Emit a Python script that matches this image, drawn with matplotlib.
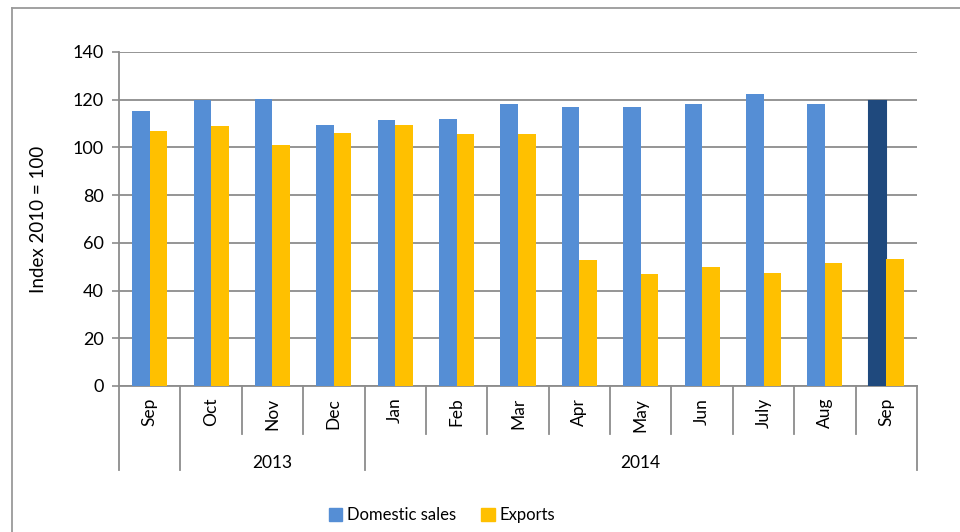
import matplotlib.pyplot as plt
import matplotlib.transforms as mtransforms
from matplotlib.patches import Patch
from matplotlib.lines import Line2D
import numpy as np

plt.rcParams['font.family'] = ['Lato', 'DejaVu Sans']

months = ['Sep', 'Oct', 'Nov', 'Dec', 'Jan', 'Feb', 'Mar', 'Apr', 'May', 'Jun', 'July', 'Aug', 'Sep']
domestic = [115.3, 120, 120.5, 109.5, 111.5, 112, 118, 117, 117, 118, 122.5, 118.2, 119.6]
exports = [107, 109, 101, 106, 109.5, 105.5, 105.5, 53, 47, 50, 47.5, 51.5, 53.2]
# year groups: (label, first index, last index)
years = [('', 0, 0), ('2013', 1, 3), ('2014', 4, 12)]

blue = '#558ED5'
dark = '#1F497D'
gold = '#FFC000'
grid_c = '#8C8C8C'

fig = plt.figure(figsize=(9.6, 5.32), dpi=100)
ax = fig.add_axes([119 / 960, 1 - 386 / 532, 798 / 960, 334 / 532])

x = np.arange(len(months))
w = 1 / 3.5
dom_colors = [blue] * (len(months) - 1) + [dark]
ax.bar(x - w / 2, domestic, w, color=dom_colors, zorder=3)
ax.bar(x[-1] - w / 2, domestic[-1], w, color=dark, edgecolor=dark, linewidth=1.5, zorder=3)
ax.bar(x + w / 2, exports, w, color=gold, zorder=3)

ax.set_xlim(-0.5, len(months) - 0.5)
ax.set_ylim(0, 140)
ax.set_yticks(range(0, 141, 20))
ax.yaxis.grid(True, color=grid_c, linewidth=1.3, zorder=0)
ax.tick_params(axis='y', direction='out', length=5, width=1.2, color=grid_c, labelsize=13, pad=6)
ax.set_xticks([])
for s in ['top', 'right']:
    ax.spines[s].set_visible(False)
ax.spines['left'].set_color(grid_c)
ax.spines['left'].set_linewidth(1.3)
ax.spines['bottom'].set_color(grid_c)
ax.spines['bottom'].set_linewidth(1.3)
ax.set_ylabel('Index 2010 = 100', fontsize=13.5, labelpad=18)

trans = mtransforms.blended_transform_factory(ax.transData, ax.transAxes)
for i, m in enumerate(months):
    ax.text(i, -0.035, m, rotation=90, ha='center', va='top', fontsize=12.5, transform=trans)

long_b = set()
for label, a, b in years:
    long_b.add(a - 0.5)
    long_b.add(b + 0.5)
    if label:
        ax.text((a + b) / 2, -0.23, label, ha='center', va='center', fontsize=12.5, transform=trans)
for bnd in np.arange(-0.5, len(months), 1.0):
    y_end = -0.2515 if bnd in long_b else -0.1437
    ax.add_line(Line2D([bnd, bnd], [0, y_end], transform=trans, color=grid_c,
                       linewidth=1.3, clip_on=False))

handles = [Patch(color=blue, label='Domestic sales'), Patch(color=gold, label='Exports')]
fig.legend(handles=handles, loc='center', bbox_to_anchor=(442 / 960, 1 - 515 / 532), ncol=2,
           frameon=False, fontsize=12, handlelength=0.8, handleheight=0.8,
           handletextpad=0.3, columnspacing=1.5)

# outer chart frame (left and top edges)
fig.add_artist(Line2D([12 / 960, 12 / 960], [0, 1 - 8 / 532], color='#9A9A9A', linewidth=1.3))
fig.add_artist(Line2D([12 / 960, 1], [1 - 8 / 532, 1 - 8 / 532], color='#9A9A9A', linewidth=1.3))

fig.savefig('out.png', dpi=100)
